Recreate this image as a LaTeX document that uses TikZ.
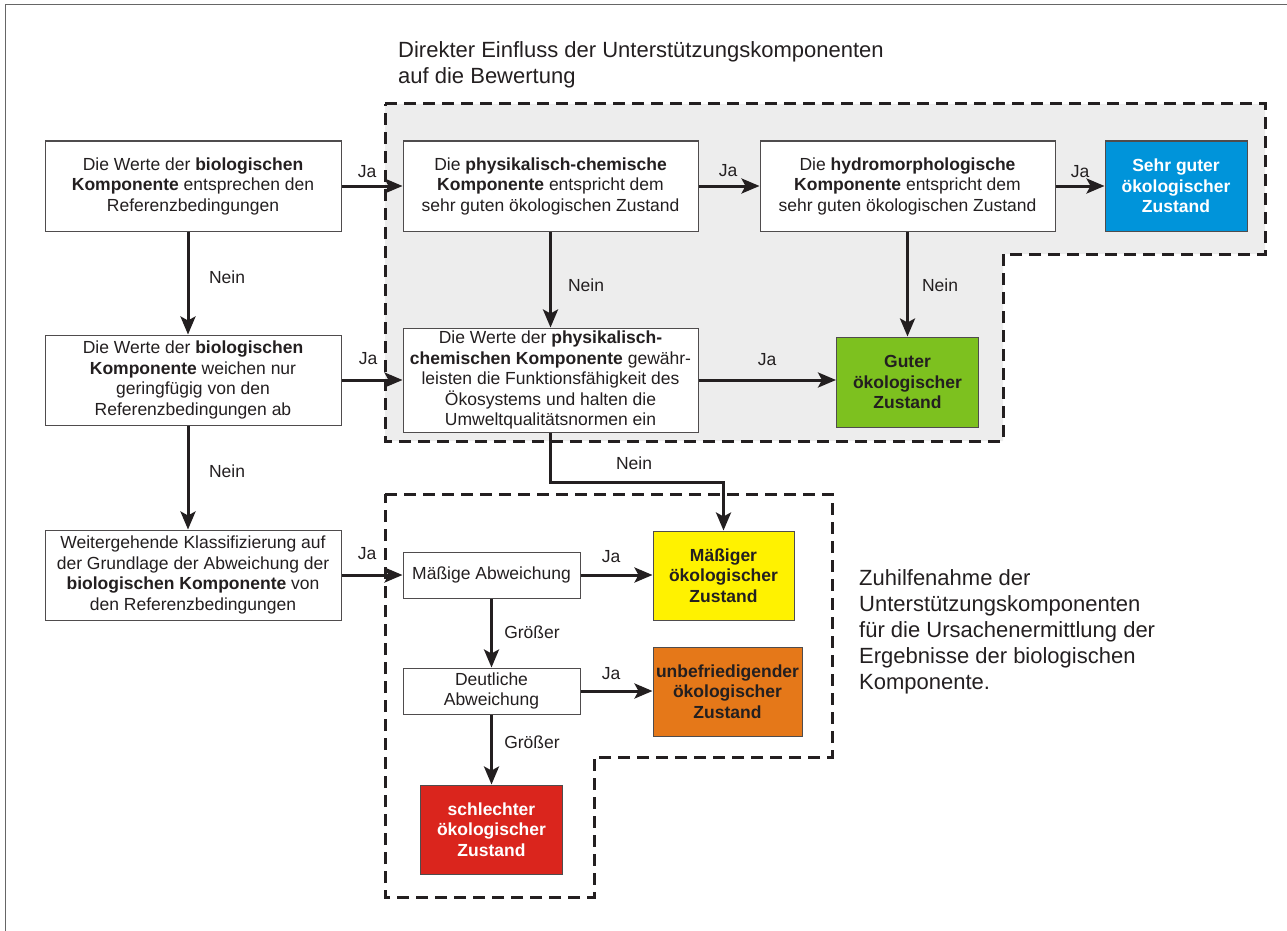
\documentclass[tikz,border=0pt]{standalone}
\usepackage{fontspec}
\setmainfont{Liberation Sans}
\usetikzlibrary{arrows.meta}
\definecolor{zonegrey}{HTML}{EDEDED}
\definecolor{cblue}{HTML}{0094DA}
\definecolor{cgreen}{HTML}{7DC11F}
\definecolor{cyellow}{HTML}{FFF200}
\definecolor{corange}{HTML}{E57819}
\definecolor{cred}{HTML}{DA251D}
\definecolor{ink}{HTML}{231F20}
\begin{document}
\begin{tikzpicture}[x=1pt,y=-1pt,
  box/.style={draw=ink!80, line width=1pt, fill=white, align=center, inner sep=0pt,
    font=\fontsize{17.5}{20.5}\selectfont, text=ink},
  res/.style={draw=ink!80, line width=1pt, align=center, inner sep=0pt,
    font=\fontsize{17.5}{20.5}\selectfont\bfseries},
  arr/.style={line width=3pt, draw=ink, -{Stealth[length=18pt,width=15pt,inset=4pt]}},
  lbl/.style={font=\fontsize{17.5}{20.5}\selectfont, inner sep=0pt, text=ink},
  zone/.style={line width=3pt, dash pattern=on 12pt off 7pt, draw=ink},
  big/.style={font=\fontsize{22}{26}\selectfont, inner sep=0pt, align=left, text=ink},
]
\useasboundingbox (0,0) rectangle (1287,931);
% outer frame (left and top only)
\draw[line width=1.5pt, black!60] (5.5,931) -- (5.5,4.5) -- (1287,4.5);

% zones
\draw[zone, fill=zonegrey] (385,104) -- (1265,104) -- (1265,254) -- (1003,254) -- (1003,441) -- (385,441) -- cycle;
\draw[zone] (385,494) -- (832,494) -- (832,757) -- (594,757) -- (594,897) -- (385,897) -- cycle;

% zone captions
\node[big, anchor=north west] (cap1) at (398,41) {Direkter Einfluss der Unterstützungskomponenten\\auf die Bewertung};
\node[big, anchor=north west] (cap2) at (859,569) {Zuhilfenahme der\\Unterstützungskomponenten\\für die Ursachenermittlung der\\Ergebnisse der biologischen\\Komponente.};

% boxes
\node[box, minimum width=296pt, minimum height=90pt] (A) at (193,186)
  {Die Werte der \textbf{biologischen}\\\textbf{Komponente} entsprechen den\\Referenzbedingungen};
\node[box, minimum width=295pt, minimum height=90pt] (B) at (550.5,186)
  {Die \textbf{physikalisch-chemische}\\\textbf{Komponente} entspricht dem\\sehr guten ökologischen Zustand};
\node[box, minimum width=295pt, minimum height=90pt] (C) at (907.5,186)
  {Die \textbf{hydromorphologische}\\\textbf{Komponente} entspricht dem\\sehr guten ökologischen Zustand};
\node[res, fill=cblue, text=white, minimum width=142pt, minimum height=90pt] (D) at (1176,186)
  {Sehr guter\\ökologischer\\Zustand};
\node[box, minimum width=296pt, minimum height=90pt] (E) at (193,380)
  {Die Werte der \textbf{biologischen}\\\textbf{Komponente} weichen nur\\geringfügig von den\\Referenzbedingungen ab};
\node[box, minimum width=295pt, minimum height=104pt] (F) at (550.5,380)
  {Die Werte der \textbf{physikalisch-}\\\textbf{chemischen Komponente} gewähr-\\leisten die Funktionsfähigkeit des\\Ökosystems und halten die\\Umweltqualitätsnormen ein};
\node[res, fill=cgreen, text=ink, minimum width=142pt, minimum height=90pt] (G) at (907.5,382)
  {Guter\\ökologischer\\Zustand};
\node[box, minimum width=296pt, minimum height=90pt] (H) at (193,575)
  {Weitergehende Klassifizierung auf\\der Grundlage der Abweichung der\\\textbf{biologischen Komponente} von\\den Referenzbedingungen};
\node[box, minimum width=177pt, minimum height=46pt] (I) at (491.5,575)
  {Mäßige Abweichung};
\node[box, minimum width=177pt, minimum height=46pt] (J) at (491.5,691)
  {Deutliche\\Abweichung};
\node[res, fill=cyellow, text=ink, minimum width=141pt, minimum height=89pt] (Y) at (723.5,575.5)
  {Mäßiger\\ökologischer\\Zustand};
\node[res, fill=corange, text=ink, minimum width=149pt, minimum height=89pt] (O) at (727.5,691.5)
  {unbefriedigender\\ökologischer\\Zustand};
\node[res, fill=cred, text=white, minimum width=142pt, minimum height=89pt] (R) at (491.5,829.5)
  {schlechter\\ökologischer\\Zustand};

% connectors
\draw[arr] (A.east) -- (B.west);
\draw[arr] (B.east) -- (C.west);
\draw[arr] (C.east) -- (D.west);
\draw[arr] ([xshift=-5pt]A.south) -- ([xshift=-5pt]E.north);
\draw[arr] (B.south) -- (F.north);
\draw[arr] (C.south) -- (G.north);
\draw[arr] (E.east) -- (F.west);
\draw[arr] (F.east) -- (F.east -| G.west);
\draw[arr] ([xshift=-5pt]E.south) -- ([xshift=-5pt]H.north);
\draw[arr] (F.south) -- ++(0,50) -| (Y.north);
\draw[arr] (H.east) -- (I.west);
\draw[arr] (I.east) -- (I.east -| Y.west);
\draw[arr] (J.east) -- (J.east -| O.west);
\draw[arr] (I.south) -- (J.north);
\draw[arr] (J.south) -- (R.north);

% connector labels
\node[lbl] (l1) at (367,172) {Ja};
\node[lbl] (l2) at (728,171) {Ja};
\node[lbl] (l3) at (1080,172) {Ja};
\node[lbl] (l4) at (368,359) {Ja};
\node[lbl] (l5) at (767,360) {Ja};
\node[lbl] (l6) at (367,554) {Ja};
\node[lbl] (l7) at (611,557) {Ja};
\node[lbl] (l8) at (611,674) {Ja};
\node[lbl] (n1) at (227,277) {Nein};
\node[lbl] (n2) at (586,285) {Nein};
\node[lbl] (n3) at (940,285) {Nein};
\node[lbl] (n4) at (227,471) {Nein};
\node[lbl] (n5) at (634,463) {Nein};
\node[lbl] (g1) at (532,632) {Größer};
\node[lbl] (g2) at (532,742) {Größer};
\end{tikzpicture}
\end{document}
